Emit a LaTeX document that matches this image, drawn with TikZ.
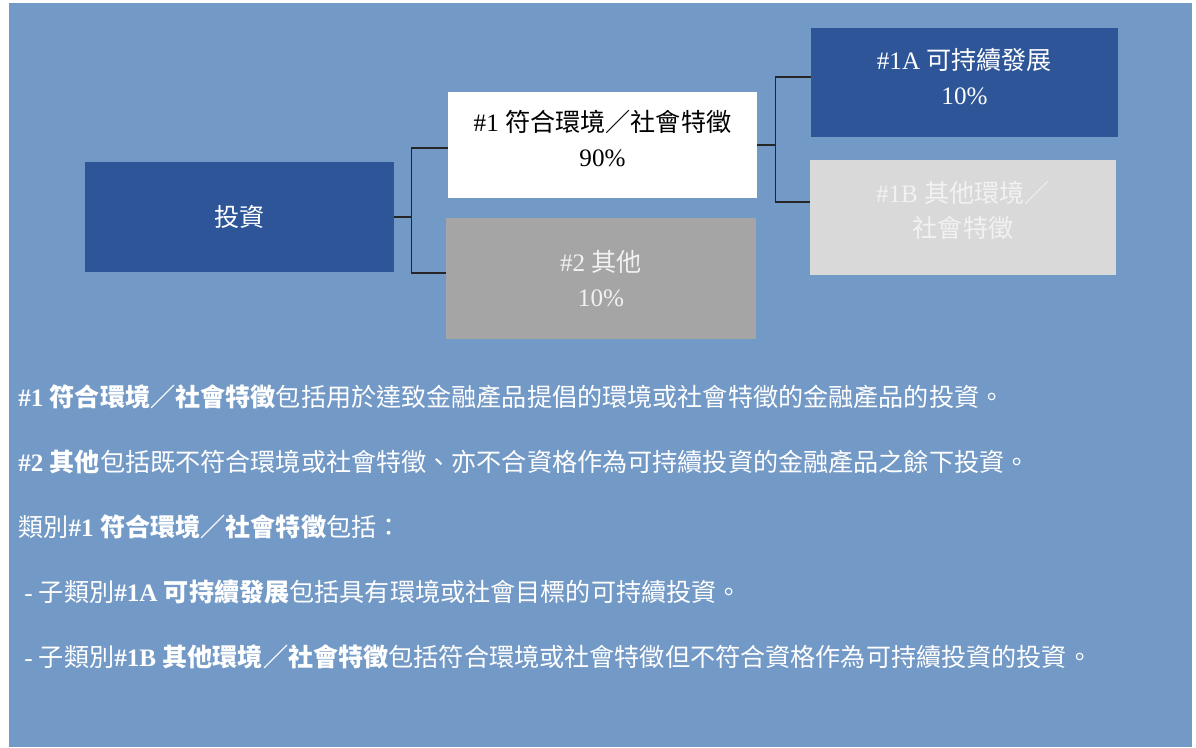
\documentclass[tikz,border=0pt]{standalone}
\usepackage{fontspec}
\setmainfont{Liberation Serif}
\newfontfamily\zh{Noto Sans CJK TC}
\usepackage{tikz}
\usetikzlibrary{positioning}

\definecolor{panelblue}{HTML}{7399C6}
\definecolor{darkblue}{HTML}{2E5597}
\definecolor{midgray}{HTML}{A5A5A5}
\definecolor{lightgray}{HTML}{D9D9D9}
\definecolor{paletext}{HTML}{F2F2F2}

\begin{document}
\begin{tikzpicture}[
    x=0.02cm, y=-0.02cm,
    every node/.style={font=\fontsize{14.3}{20}\selectfont, inner sep=0pt},
    box/.style={align=center, minimum width=6.18cm, minimum height=2.2cm},
    investbox/.style={box, fill=darkblue, text=white},
    fitbox/.style={box, fill=white, text=black, minimum height=2.12cm, text depth=0.28cm},
    otherbox/.style={box, fill=midgray, text=paletext, minimum width=6.2cm, minimum height=2.42cm},
    sustbox/.style={box, fill=darkblue, text=white, minimum width=6.14cm, minimum height=2.18cm, text depth=0.24cm},
    restbox/.style={box, fill=lightgray, text=paletext, minimum width=6.12cm, minimum height=2.3cm, text depth=0.34cm},
    link/.style={draw=black!85, line width=0.8pt},
    note/.style={anchor=west, text=white}
]

% Page and panel
\useasboundingbox (0,0) rectangle (1196,747);
\fill[white] (0,0) rectangle (1196,747);
\fill[panelblue] (9,3) rectangle (1192,747);

% Boxes of the tree
\node[investbox] (invest) at (239.5, 217) {\zh 投資};
\node[fitbox] (grp1) at (602.5, 145) {\#1 {\zh 符合環境／社會特徵}\\90\%};
\node[otherbox] (grp2) at (601, 278.5) {\#2 {\zh 其他}\\10\%};
\node[sustbox] (sub1A) at (964.5, 82.5) {\#1A {\zh 可持續發展}\\10\%};
\node[restbox] (sub1B) at (963, 217.5) {\#1B {\zh 其他環境／}\\{\zh 社會特徵}};

% Connectors
\coordinate (forkL) at ([xshift=0.34cm]invest.east);
\coordinate (forkR) at ([xshift=0.36cm]grp1.east);
\draw[link] (invest.east) -- (forkL) |- ([yshift=-0.06cm]grp1.west);
\draw[link] (forkL) |- ([yshift=0.11cm]grp2.west);
\draw[link] (grp1.east) -- (forkR) |- ([yshift=0.11cm]sub1A.west);
\draw[link] (forkR) |- ([yshift=0.31cm]sub1B.west);

% Notes below the tree
\def\linespacing{65}
\node[note] (note1) at (18, 397) {{\bfseries\#1 \zh 符合環境／社會特徵}{\zh 包括用於達致金融產品提倡的環境或社會特徵的金融產品的投資。}};
\node[note] (note2) at (18, 397+\linespacing) {{\bfseries\#2 \zh 其他}{\zh 包括既不符合環境或社會特徵、亦不合資格作為可持續投資的金融產品之餘下投資。}};
\node[note] (note3) at (18, 397+2*\linespacing) {{\zh 類別}{\bfseries\#1 \zh 符合環境／社會特徵}{\zh 包括：}};
\node[note] (note4) at (24, 397+3*\linespacing) {- {\zh 子類別}{\bfseries\#1A \zh 可持續發展}{\zh 包括具有環境或社會目標的可持續投資。}};
\node[note] (note5) at (24, 397+4*\linespacing) {- {\zh 子類別}{\bfseries\#1B \zh 其他環境／社會特徵}{\zh 包括符合環境或社會特徵但不符合資格作為可持續投資的投資。}};

\end{tikzpicture}
\end{document}
